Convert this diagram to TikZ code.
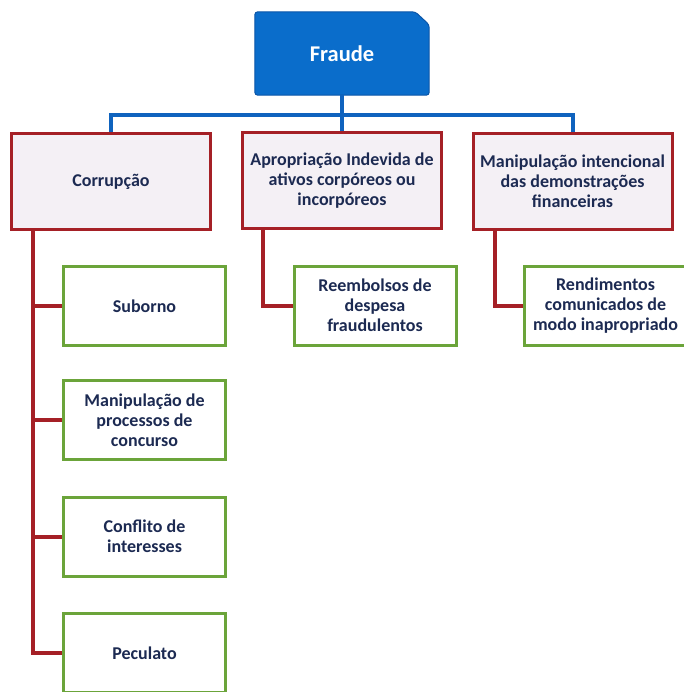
\documentclass[tikz,border=0pt]{standalone}
\usepackage{fontspec}
\setsansfont{Carlito}
\usetikzlibrary{backgrounds}
\definecolor{fraudeblue}{HTML}{0A6DCB}
\definecolor{fraudeedge}{HTML}{0A55A8}
\definecolor{linkblue}{HTML}{0F63BE}
\definecolor{tipored}{HTML}{A52026}
\definecolor{tipofill}{HTML}{F4F0F5}
\definecolor{casogreen}{HTML}{6BA43A}
\definecolor{textnavy}{HTML}{1C2A52}

\begin{document}
\begin{tikzpicture}[
  x = 1pt, y = -1pt,
  every node/.style = {font = \sffamily\bfseries\fontsize{18}{20}\selectfont, text = textnavy, align = center, inner sep = 0pt},
  topo/.style = {minimum width = 174pt, minimum height = 83pt, text = white, font = \sffamily\bfseries\fontsize{22.5}{26}\selectfont},
  tipo/.style = {draw = tipored, fill = tipofill, line width = 3pt, minimum width = 199pt, minimum height = 96pt},
  caso/.style = {draw = casogreen, fill = white, line width = 3pt, minimum width = 162pt, minimum height = 79pt},
  bluelink/.style = {draw = linkblue, line width = 4pt},
  redlink/.style = {draw = tipored, line width = 4pt},
  ]
  \useasboundingbox (0,0) rectangle (683,692);
  \node[topo] (fraude) at (342,53.5) {Fraude};
  \begin{scope}[on background layer]
    \filldraw[fill = fraudeblue, draw = fraudeedge, line width = 1pt, rounded corners = 3pt]
      (fraude.south west) -- (fraude.north west) -- ([xshift = -14pt]fraude.north east)
      -- ([yshift = -13pt]fraude.north east) -- (fraude.south east) -- cycle;
  \end{scope}

  \node[tipo] (corrupcao) at (111,181.5) {Corrupção};
  \node[tipo] (apropriacao) at (342,181) {Apropriação Indevida de\\ativos corpóreos ou\\incorpóreos};
  \node[tipo] (manipulacao) at (572.5,181.5) {Manipulação intencional\\das demonstrações\\financeiras};

  \node[caso] (suborno) at (144.5,306) {Suborno};
  \node[caso] (concurso) at (144.5,420) {Manipulação de\\processos de\\concurso};
  \node[caso] (conflito) at (144.5,536.5) {Conflito de\\interesses};
  \node[caso] (peculato) at (144.5,653) {Peculato};
  \node[caso] (reembolsos) at (375,305.5) {Reembolsos de\\despesa\\fraudulentos};
  \node[caso] (rendimentos) at (605.5,305.5) {Rendimentos\\comunicados de\\modo inapropriado};

  \coordinate (barra) at (342,115);
  \draw[bluelink] (fraude.south) -- (apropriacao.north);
  \draw[bluelink] (corrupcao.north) -- (corrupcao.north |- barra) -- (manipulacao.north |- barra) -- (manipulacao.north);

  \coordinate (ramo1) at ([xshift = -78pt]corrupcao.south);
  \coordinate (ramo2) at ([xshift = -79pt]apropriacao.south);
  \coordinate (ramo3) at ([xshift = -77.5pt]manipulacao.south);
  \draw[redlink] (ramo1) |- (peculato.west);
  \foreach \caso in {suborno, concurso, conflito}
    \draw[redlink] (ramo1 |- \caso.west) -- (\caso.west);
  \draw[redlink] (ramo2) |- (reembolsos.west);
  \draw[redlink] (ramo3) |- (rendimentos.west);
\end{tikzpicture}
\end{document}
